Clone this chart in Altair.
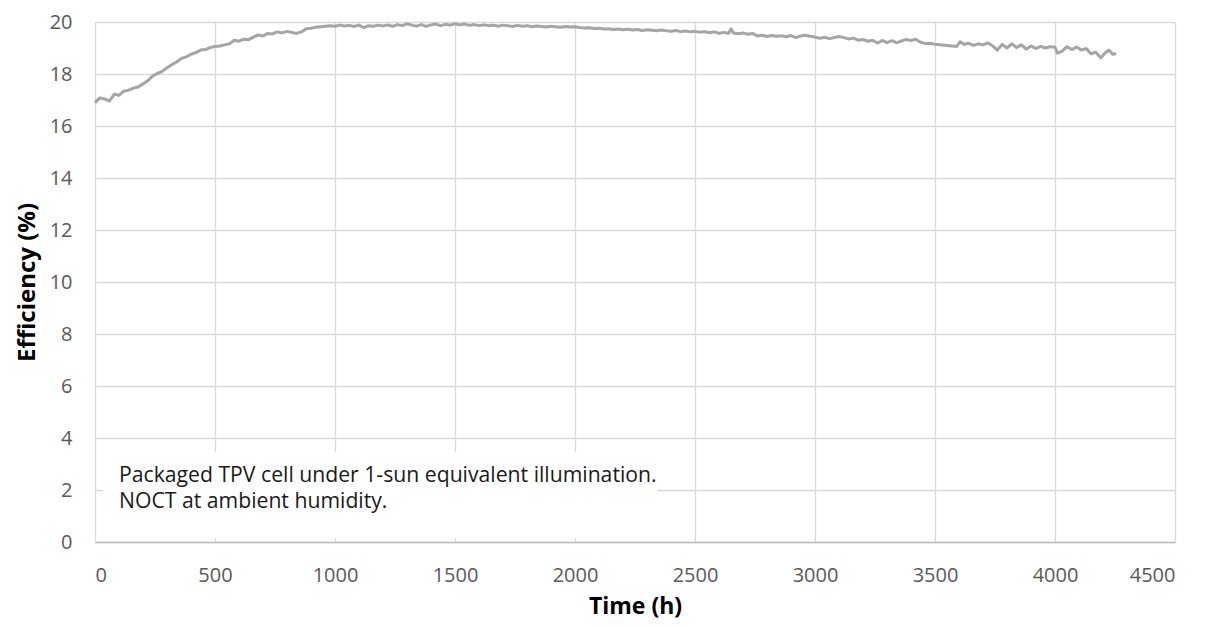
import altair as alt
import pandas as pd

hours = [
    0, 20, 40, 60, 80, 100, 120, 140, 160, 180,
    200, 220, 240, 260, 280, 300, 320, 340, 360, 380,
    400, 420, 440, 460, 480, 500, 520, 540, 560, 580,
    600, 620, 640, 660, 680, 700, 720, 740, 760, 780,
    800, 820, 840, 860, 880, 900, 920, 940, 960, 980,
    1000, 1020, 1040, 1060, 1080, 1100, 1120, 1140, 1160, 1180,
    1200, 1220, 1240, 1260, 1280, 1300, 1320, 1340, 1360, 1380,
    1400, 1420, 1440, 1460, 1480, 1500, 1520, 1540, 1560, 1580,
    1600, 1620, 1640, 1660, 1680, 1700, 1720, 1740, 1760, 1780,
    1800, 1820, 1840, 1860, 1880, 1900, 1920, 1940, 1960, 1980,
    2000, 2020, 2040, 2060, 2080, 2100, 2120, 2140, 2160, 2180,
    2200, 2220, 2240, 2260, 2280, 2300, 2320, 2340, 2360, 2380,
    2400, 2420, 2440, 2460, 2480, 2500, 2520, 2540, 2560, 2580,
    2600, 2620, 2640, 2650, 2660, 2680, 2700, 2720, 2740, 2760,
    2780, 2800, 2820, 2840, 2860, 2880, 2900, 2920, 2940, 2960,
    2980, 3000, 3020, 3040, 3060, 3080, 3100, 3120, 3140, 3160,
    3180, 3200, 3220, 3240, 3260, 3280, 3300, 3320, 3340, 3360,
    3380, 3400, 3420, 3440, 3460, 3480, 3500, 3590, 3605, 3620,
    3640, 3660, 3680, 3700, 3720, 3740, 3760, 3780, 3800, 3820,
    3840, 3860, 3880, 3900, 3920, 3940, 3960, 3980, 4000, 4010,
    4030, 4050, 4070, 4090, 4110, 4130, 4150, 4170, 4190, 4210,
    4225, 4240, 4255,
]

efficiency = [
    16.90, 17.08, 17.04, 16.96, 17.22, 17.18, 17.34, 17.38, 17.46, 17.50,
    17.62, 17.74, 17.92, 18.02, 18.10, 18.24, 18.36, 18.46, 18.60, 18.66,
    18.76, 18.82, 18.92, 18.94, 19.02, 19.06, 19.08, 19.12, 19.16, 19.30,
    19.26, 19.34, 19.32, 19.42, 19.50, 19.46, 19.56, 19.54, 19.62, 19.58,
    19.64, 19.60, 19.56, 19.62, 19.74, 19.76, 19.80, 19.82, 19.84, 19.86,
    19.84, 19.88, 19.85, 19.87, 19.83, 19.88, 19.78, 19.86, 19.84, 19.88,
    19.85, 19.89, 19.83, 19.90, 19.86, 19.93, 19.88, 19.84, 19.90, 19.83,
    19.89, 19.92, 19.86, 19.91, 19.88, 19.93, 19.89, 19.92, 19.87, 19.90,
    19.86, 19.89, 19.86, 19.88, 19.84, 19.88, 19.86, 19.83, 19.87, 19.84,
    19.86, 19.82, 19.85, 19.83, 19.81, 19.84, 19.82, 19.80, 19.83, 19.81,
    19.82, 19.79, 19.77, 19.78, 19.75, 19.76, 19.73, 19.74, 19.71, 19.73,
    19.70, 19.72, 19.69, 19.71, 19.67, 19.70, 19.68, 19.66, 19.69, 19.66,
    19.64, 19.67, 19.63, 19.65, 19.62, 19.64, 19.61, 19.63, 19.59, 19.62,
    19.57, 19.60, 19.56, 19.74, 19.58, 19.55, 19.58, 19.53, 19.56, 19.46,
    19.49, 19.44, 19.48, 19.45, 19.47, 19.43, 19.48, 19.40, 19.46, 19.49,
    19.45, 19.42, 19.37, 19.41, 19.36, 19.40, 19.44, 19.40, 19.35, 19.38,
    19.30, 19.33, 19.26, 19.30, 19.19, 19.29, 19.21, 19.28, 19.20, 19.27,
    19.33, 19.29, 19.34, 19.22, 19.17, 19.18, 19.14, 19.06, 19.24, 19.14,
    19.18, 19.10, 19.16, 19.12, 19.20, 19.08, 18.92, 19.14, 19.00, 19.16,
    19.02, 19.12, 18.96, 19.08, 18.98, 19.06, 19.00, 19.05, 19.03, 18.80,
    18.88, 19.05, 18.94, 19.04, 18.92, 18.98, 18.78, 18.84, 18.62, 18.82,
    18.92, 18.76, 18.78,
]

x_ticks = [0, 500, 1000, 1500, 2000, 2500, 3000, 3500, 4000, 4500]
y_ticks = [0, 2, 4, 6, 8, 10, 12, 14, 16, 18, 20]

note_lines = ["Packaged TPV cell under 1-sun equivalent illumination.", "NOCT at ambient humidity."]
# annotation box extent in data units
box_h = [33, 2342]
box_v = [0.15, 3.46]

FONT = "Open Sans"

n = min(len(hours), len(efficiency))
df = pd.DataFrame({"hours": hours[:n], "efficiency": efficiency[:n]})

x_enc = alt.X("hours:Q", scale=alt.Scale(domain=[0, 4500], nice=False),
              axis=alt.Axis(values=x_ticks, format="d", title="Time (h)", grid=True,
                            gridColor="#d9d9d9", gridWidth=1.3, ticks=False, tickSize=0,
                            domain=True, domainColor="#bfbfbf", domainWidth=1.3,
                            labelFont=FONT, labelFontSize=20, labelColor="#595959", labelPadding=23,
                            titleFont=FONT, titleFontSize=23, titleFontWeight="bold", titleColor="#000000",
                            titleBaseline="alphabetic", titleY=71))
y_enc = alt.Y("efficiency:Q", scale=alt.Scale(domain=[0, 20], nice=False),
              axis=alt.Axis(values=y_ticks, title="Efficiency (%)", grid=True,
                            gridColor="#d9d9d9", gridWidth=1.3, ticks=False, tickSize=0, domain=False,
                            labelFont=FONT, labelFontSize=20, labelColor="#595959", labelPadding=23,
                            titleFont=FONT, titleFontSize=24, titleFontWeight="bold", titleColor="#000000",
                            titleBaseline="alphabetic", titleX=-61, titleY=260, titleAngle=270))

line = alt.Chart(df).mark_line(color="#a5a5a5", strokeWidth=3, strokeJoin="round").encode(x=x_enc, y=y_enc)

box_df = pd.DataFrame({"x": [box_h[0]], "x2": [box_h[1]], "y": [box_v[0]], "y2": [box_v[1]]})
box = alt.Chart(box_df).mark_rect(color="white", opacity=1).encode(
    x=alt.X("x:Q"), x2="x2:Q", y=alt.Y("y:Q"), y2="y2:Q")

note_df = pd.DataFrame({"t": [note_lines]})
note = alt.Chart(note_df).mark_text(align="left", baseline="alphabetic", font=FONT, fontSize=21.2,
                                    color="#1a1a1a", lineHeight=26).encode(
    x=alt.value(24), y=alt.value(460), text="t:N")

chart = alt.layer(line, box, note).properties(
    width=1080, height=520,
    autosize=alt.AutoSizeParams(type="none"),
    padding={"left": 87, "top": 14, "right": 27, "bottom": 77},
).configure_view(stroke=None).configure(background="white")

chart.save("out.html", embed_options={"renderer": "svg", "actions": False})
